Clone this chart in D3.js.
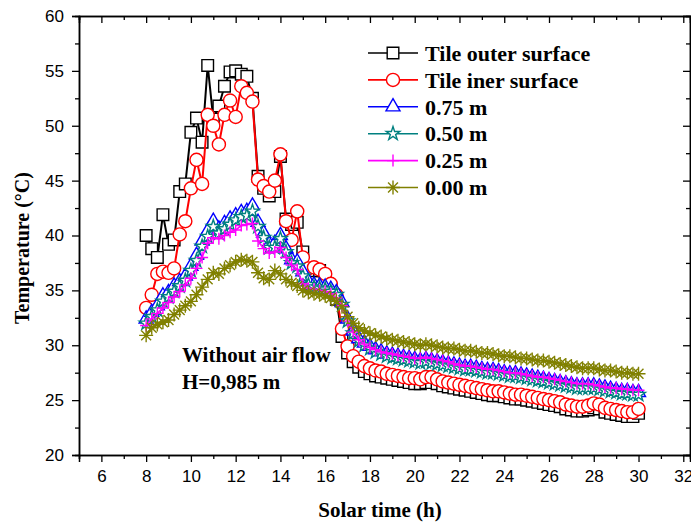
<!DOCTYPE html>
<html>
<head>
<meta charset="utf-8">
<script src="https://cdn.jsdelivr.net/npm/d3@7"></script>
<style>
  body { margin: 0; background: #fff; }
  svg { display: block; }
</style>
</head>
<body>
<div id="chart"></div>
<script>
// solar time (h), 15 min steps
const time = [
  8, 8.25, 8.5, 8.75, 9, 9.25, 9.5, 9.75, 10, 10.25, 10.5, 10.75,
  11, 11.25, 11.5, 11.75, 12, 12.25, 12.5, 12.75, 13, 13.25, 13.5, 13.75,
  14, 14.25, 14.5, 14.75, 15, 15.25, 15.5, 15.75, 16, 16.25, 16.5, 16.75,
  17, 17.25, 17.5, 17.75, 18, 18.25, 18.5, 18.75, 19, 19.25, 19.5, 19.75,
  20, 20.25, 20.5, 20.75, 21, 21.25, 21.5, 21.75, 22, 22.25, 22.5, 22.75,
  23, 23.25, 23.5, 23.75, 24, 24.25, 24.5, 24.75, 25, 25.25, 25.5, 25.75,
  26, 26.25, 26.5, 26.75, 27, 27.25, 27.5, 27.75, 28, 28.25, 28.5, 28.75,
  29, 29.25, 29.5, 29.75, 30
];

const tileOuter = [
  40.0, 38.8, 38.0, 41.9, 39.2, 39.6, 44.0, 44.7, 49.4, 50.7, 48.5, 55.5,
  50.6, 51.8, 53.6, 54.9, 55.0, 54.7, 54.5, 52.5, 45.4, 44.3, 43.6, 44.0,
  47.2, 41.5, 41.0, 41.2, 38.5, 37.0, 36.8, 36.8, 36.2, 35.2, 34.2, 30.8,
  29.3, 28.5, 28.0, 27.6, 27.4, 27.2, 27.1, 27.0, 26.9, 26.8, 26.7, 26.6,
  26.5, 26.5, 26.6, 26.6, 26.5, 26.3, 26.2, 26.1, 26.0, 25.9, 25.8, 25.7,
  25.6, 25.5, 25.4, 25.4, 25.3, 25.2, 25.1, 25.1, 25.0, 24.9, 24.8, 24.7,
  24.6, 24.5, 24.4, 24.2, 24.1, 24.0, 24.0, 24.1, 24.3, 24.2, 23.9, 23.8,
  23.7, 23.6, 23.5, 23.5, 23.8
];

const tileInner = [
  33.4, 34.6, 36.5, 36.7, 36.6, 37.0, 40.1, 41.3, 44.3, 46.9, 44.7, 51.0,
  50.0, 48.3, 51.0, 52.3, 50.8, 53.6, 53.0, 52.2, 45.1, 44.5, 44.0, 45.0,
  47.4, 41.3, 39.6, 42.2, 38.0, 37.0, 37.1, 36.9, 36.5, 35.6, 34.6, 31.5,
  29.9, 29.0, 28.5, 28.1, 27.9, 27.7, 27.6, 27.4, 27.3, 27.2, 27.1, 27.0,
  27.0, 26.9, 27.1, 27.1, 26.9, 26.7, 26.6, 26.5, 26.4, 26.3, 26.2, 26.1,
  26.0, 25.9, 25.8, 25.8, 25.7, 25.6, 25.5, 25.5, 25.4, 25.3, 25.2, 25.1,
  25.0, 24.9, 24.8, 24.6, 24.5, 24.4, 24.4, 24.5, 24.7, 24.6, 24.3, 24.2,
  24.1, 24.0, 23.9, 23.9, 24.2
];

const h075 = [
  32.4, 33.0, 33.6, 34.5, 34.8, 35.4, 35.8, 36.3, 37.2, 38.2, 39.5, 40.4,
  41.3, 40.6, 41.1, 41.5, 41.8, 42.1, 42.2, 42.7, 41.2, 40.2, 39.2, 39.3,
  40.0, 38.8, 37.8, 37.6, 36.7, 35.8, 35.5, 35.4, 35.3, 35.1, 34.8, 33.9,
  32.4, 31.3, 30.6, 30.2, 29.9, 29.6, 29.4, 29.2, 29.1, 29.0, 28.9, 28.8,
  28.7, 28.6, 28.7, 28.6, 28.5, 28.4, 28.3, 28.2, 28.1, 28.0, 28.0, 27.9,
  27.8, 27.7, 27.7, 27.6, 27.5, 27.4, 27.4, 27.3, 27.2, 27.1, 27.0, 26.9,
  26.8, 26.7, 26.6, 26.5, 26.4, 26.3, 26.3, 26.3, 26.3, 26.2, 26.1, 26.0,
  25.9, 25.8, 25.8, 25.7, 25.7
];

const h050 = [
  32.0, 32.6, 33.2, 34.0, 34.4, 34.9, 35.4, 35.9, 36.8, 37.7, 39.0, 39.9,
  40.8, 40.2, 40.6, 41.0, 41.4, 41.7, 41.8, 42.2, 40.8, 39.8, 38.9, 38.9,
  39.7, 38.5, 37.5, 37.2, 36.3, 35.5, 35.3, 35.2, 35.1, 34.9, 34.6, 33.7,
  32.2, 31.1, 30.4, 30.0, 29.7, 29.4, 29.2, 29.0, 28.9, 28.8, 28.7, 28.6,
  28.5, 28.4, 28.5, 28.4, 28.3, 28.2, 28.1, 28.0, 27.9, 27.8, 27.8, 27.7,
  27.6, 27.5, 27.5, 27.4, 27.3, 27.2, 27.2, 27.1, 27.0, 26.9, 26.8, 26.7,
  26.6, 26.5, 26.4, 26.3, 26.2, 26.1, 26.1, 26.1, 26.1, 26.0, 25.9, 25.8,
  25.7, 25.6, 25.6, 25.5, 25.5
];

const h025 = [
  31.8, 32.4, 32.9, 33.4, 33.9, 34.4, 34.9, 35.5, 36.1, 37.0, 38.0, 39.3,
  39.8, 39.7, 40.0, 40.3, 40.5, 40.9, 41.0, 41.1, 39.5, 38.8, 38.4, 38.5,
  38.9, 38.0, 37.3, 36.9, 35.6, 35.2, 35.1, 35.0, 34.9, 34.7, 34.3, 33.6,
  32.2, 31.2, 30.5, 30.1, 29.8, 29.6, 29.4, 29.3, 29.2, 29.1, 29.0, 28.9,
  28.8, 28.8, 28.9, 28.8, 28.7, 28.6, 28.5, 28.3, 28.2, 28.1, 28.1, 28.0,
  27.9, 27.8, 27.8, 27.7, 27.6, 27.5, 27.5, 27.4, 27.3, 27.2, 27.1, 27.1,
  27.0, 26.9, 26.8, 26.7, 26.6, 26.5, 26.5, 26.5, 26.4, 26.3, 26.2, 26.1,
  26.1, 26.0, 26.0, 25.9, 25.9
];

const h000 = [
  30.9, 31.6, 31.9, 32.1, 32.3, 32.8, 33.2, 33.6, 34.0, 34.6, 35.3, 36.0,
  36.6, 36.5, 37.0, 37.3, 37.6, 37.8, 37.7, 37.6, 36.6, 36.1, 36.0, 36.8,
  36.5, 36.0, 35.7, 35.4, 35.0, 34.8, 34.7, 34.6, 34.5, 34.3, 34.0, 33.5,
  32.6, 32.0, 31.6, 31.3, 31.1, 30.9, 30.8, 30.6, 30.5, 30.4, 30.3, 30.2,
  30.1, 30.0, 30.1, 30.0, 29.9, 29.8, 29.7, 29.7, 29.6, 29.5, 29.5, 29.4,
  29.3, 29.3, 29.2, 29.1, 29.0, 29.0, 28.9, 28.8, 28.8, 28.7, 28.6, 28.6,
  28.5, 28.4, 28.3, 28.2, 28.1, 28.0, 27.9, 27.9, 27.9, 27.8, 27.7, 27.7,
  27.6, 27.5, 27.5, 27.4, 27.4
];

const seriesNames = ["Tile outer surface", "Tile iner surface", "0.75 m", "0.50 m", "0.25 m", "0.00 m"];
const seriesValues = [tileOuter, tileInner, h075, h050, h025, h000];
const seriesColors = ["#000000", "#ff0000", "#0000ff", "#008080", "#ff00ff", "#808000"];
const seriesMarkers = ["square", "circle", "triangle", "star", "plus", "asterisk"];

const xTicks = [6, 8, 10, 12, 14, 16, 18, 20, 22, 24, 26, 28, 30, 32];
const yTicks = [20, 25, 30, 35, 40, 45, 50, 55, 60];

const width = 691, height = 524;
const mLeft = 79, mRight = 690, mTop = 16, mBottom = 455;

const svg = d3.select("#chart").append("svg")
  .attr("width", width)
  .attr("height", height);

const x = d3.scaleLinear().domain([5, 32.3]).range([mLeft, mRight]);
const y = d3.scaleLinear().domain([20, 60]).range([mBottom, mTop]);

// marker path generators
function markerPath(kind) {
  if (kind === "square") return d3.symbol(d3.symbolSquare, 135)();
  if (kind === "circle") return d3.symbol(d3.symbolCircle, 135)();
  if (kind === "triangle") return d3.symbol(d3.symbolTriangle, 85)();
  if (kind === "star") return d3.symbol(d3.symbolStar, 58)();
  if (kind === "plus") return "M-6,0H6M0,-6V6";
  // asterisk, 8 arms
  const r = 7, d = r * Math.SQRT1_2;
  return `M${-r},0H${r}M0,${-r}V${r}M${-d},${-d}L${d},${d}M${-d},${d}L${d},${-d}`;
}

const serifFont = "'Liberation Serif', 'Times New Roman', serif";
const sansFont = "'Liberation Sans', Arial, sans-serif";

// axes
svg.append("g")
  .attr("transform", `translate(0,${mBottom})`)
  .call(d3.axisBottom(x).tickValues(xTicks).tickSize(7).tickPadding(8).tickFormat(d3.format("d")));
svg.append("g")
  .attr("transform", `translate(0,${mBottom})`)
  .call(d3.axisBottom(x).tickValues(d3.range(5, 33, 2)).tickSize(4).tickFormat(""));
svg.append("g")
  .attr("transform", `translate(${mLeft},0)`)
  .call(d3.axisLeft(y).tickValues(yTicks).tickSize(7).tickPadding(8));
svg.append("g")
  .attr("transform", `translate(${mLeft},0)`)
  .call(d3.axisLeft(y).tickValues(d3.range(22.5, 60, 5)).tickSize(4).tickFormat(""));

// mirrored axes, ticks inward
svg.append("g")
  .attr("transform", `translate(0,${mTop})`)
  .call(d3.axisBottom(x).tickValues(xTicks).tickSize(7).tickFormat(""));
svg.append("g")
  .attr("transform", `translate(0,${mTop})`)
  .call(d3.axisBottom(x).tickValues(d3.range(5, 33, 2)).tickSize(4).tickFormat(""));
svg.append("g")
  .attr("transform", `translate(${mRight},0)`)
  .call(d3.axisLeft(y).tickValues(yTicks).tickSize(7).tickFormat(""));
svg.append("g")
  .attr("transform", `translate(${mRight},0)`)
  .call(d3.axisLeft(y).tickValues(d3.range(22.5, 60, 5)).tickSize(4).tickFormat(""));

svg.selectAll(".domain").attr("stroke", "#000").attr("stroke-width", 1.5);
svg.selectAll(".tick line").attr("stroke", "#000").attr("stroke-width", 1.3);
svg.selectAll(".tick text")
  .attr("font-family", sansFont)
  .attr("font-size", 17)
  .attr("fill", "#000");

// axis titles
svg.append("text")
  .attr("x", 380).attr("y", 517)
  .attr("text-anchor", "middle")
  .attr("font-family", serifFont)
  .attr("font-weight", "bold")
  .attr("font-size", 21)
  .text("Solar time (h)");

svg.append("text")
  .attr("transform", "translate(29,248) rotate(-90)")
  .attr("text-anchor", "middle")
  .attr("font-family", serifFont)
  .attr("font-weight", "bold")
  .attr("font-size", 20)
  .text("Temperature (°C)");

// series
const line = d3.line()
  .x((d, i) => x(time[i]))
  .y(d => y(d));

seriesValues.forEach((vals, k) => {
  const g = svg.append("g");
  g.append("path")
    .datum(vals)
    .attr("fill", "none")
    .attr("stroke", seriesColors[k])
    .attr("stroke-width", k < 2 ? 2 : 1.6)
    .attr("d", line);
  const closed = ["square", "circle", "triangle", "star"].includes(seriesMarkers[k]);
  g.selectAll("path.mk")
    .data(vals)
    .join("path")
    .attr("class", "mk")
    .attr("transform", (d, i) => `translate(${x(time[i])},${y(d)})`)
    .attr("d", markerPath(seriesMarkers[k]))
    .attr("fill", closed ? "#fff" : "none")
    .attr("stroke", seriesColors[k])
    .attr("stroke-width", 1.4);
});

// legend
const legend = svg.append("g");
seriesNames.forEach((name, k) => {
  const ly = 53 + k * 26.9;
  legend.append("line")
    .attr("x1", 368).attr("x2", 418)
    .attr("y1", ly).attr("y2", ly)
    .attr("stroke", seriesColors[k])
    .attr("stroke-width", 1.6);
  const closed = ["square", "circle", "triangle", "star"].includes(seriesMarkers[k]);
  legend.append("path")
    .attr("transform", `translate(393,${ly})`)
    .attr("d", markerPath(seriesMarkers[k]))
    .attr("fill", closed ? "#fff" : "none")
    .attr("stroke", seriesColors[k])
    .attr("stroke-width", 1.4);
  legend.append("text")
    .attr("x", 425).attr("y", ly)
    .attr("dy", "0.35em")
    .attr("font-family", serifFont)
    .attr("font-weight", "bold")
    .attr("font-size", 22)
    .text(name);
});

// annotation
svg.append("text")
  .attr("x", 182).attr("y", 362)
  .attr("font-family", serifFont)
  .attr("font-weight", "bold")
  .attr("font-size", 21)
  .text("Without air flow");
svg.append("text")
  .attr("x", 182).attr("y", 389)
  .attr("font-family", serifFont)
  .attr("font-weight", "bold")
  .attr("font-size", 21)
  .text("H=0,985 m");
</script>
</body>
</html>
